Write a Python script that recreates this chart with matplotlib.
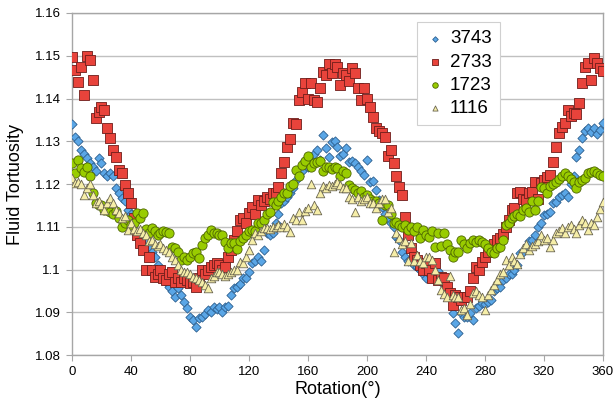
import matplotlib
matplotlib.use("Agg")
import matplotlib.pyplot as plt
import numpy as np

plt.rcParams['font.family'] = ['Liberation Sans', 'DejaVu Sans']

rotation = list(range(0, 361, 2))

s3743 = [
    1.1340, 1.1310, 1.1300, 1.1280, 1.1270, 1.1260, 1.1250, 1.1240, 1.1230, 1.1260,
    1.1250, 1.1226, 1.1220, 1.1225, 1.1220, 1.1190, 1.1180, 1.1167, 1.1160, 1.1140,
    1.1130, 1.1110, 1.1080, 1.1080, 1.1070, 1.1068, 1.1050, 1.1040, 1.1030, 1.1010,
    1.1000, 1.0980, 1.0970, 1.0960, 1.0950, 1.0936, 1.0958, 1.0940, 1.0924, 1.0910,
    1.0890, 1.0882, 1.0866, 1.0888, 1.0889, 1.0896, 1.0905, 1.0900, 1.0912, 1.0908,
    1.0912, 1.0901, 1.0913, 1.0915, 1.0940, 1.0957, 1.0960, 1.0967, 1.0980, 1.0980,
    1.0995, 1.1015, 1.1020, 1.1030, 1.1020, 1.1045, 1.1085, 1.1080, 1.1085, 1.1110,
    1.1130, 1.1156, 1.1160, 1.1170, 1.1180, 1.1190, 1.1210, 1.1220, 1.1230, 1.1256,
    1.1240, 1.1257, 1.1270, 1.1280, 1.1257, 1.1315, 1.1285, 1.1263, 1.1298, 1.1300,
    1.1287, 1.1265, 1.1270, 1.1284, 1.1251, 1.1255, 1.1250, 1.1240, 1.1230, 1.1221,
    1.1256, 1.1205, 1.1208, 1.1186, 1.1163, 1.1147, 1.1130, 1.1120, 1.1110, 1.1100,
    1.1076, 1.1070, 1.1040, 1.1030, 1.1020, 1.1025, 1.1010, 1.1006, 1.1000, 1.0990,
    1.0980, 1.0990, 1.1000, 1.1015, 1.0996, 1.0971, 1.0971, 1.0960, 1.0940, 1.0898,
    1.0875, 1.0852, 1.0898, 1.0890, 1.0890, 1.0898, 1.0882, 1.0910, 1.0915, 1.0922,
    1.0920, 1.0925, 1.0930, 1.0950, 1.0957, 1.0960, 1.0975, 1.0980, 1.0990, 1.0990,
    1.1000, 1.1010, 1.1039, 1.1040, 1.1053, 1.1066, 1.1070, 1.1080, 1.1100, 1.1108,
    1.1128, 1.1130, 1.1135, 1.1156, 1.1158, 1.1170, 1.1175, 1.1180, 1.1170, 1.1200,
    1.1220, 1.1263, 1.1280, 1.1308, 1.1323, 1.1330, 1.1322, 1.1330, 1.1318, 1.1327,
    1.1343,
]

s2733 = [
    1.1497, 1.1467, 1.1439, 1.1474, 1.1408, 1.1500, 1.1490, 1.1443, 1.1354, 1.1368,
    1.1380, 1.1373, 1.1331, 1.1308, 1.1280, 1.1263, 1.1233, 1.1226, 1.1198, 1.1180,
    1.1156, 1.1120, 1.1080, 1.1062, 1.1045, 1.0999, 1.1029, 1.1000, 1.0982, 1.0990,
    1.1000, 1.0980, 1.0975, 1.0990, 1.0994, 1.0971, 1.0980, 1.0970, 1.0980, 1.0975,
    1.0968, 1.0970, 1.0960, 1.0980, 1.1000, 1.0990, 1.1000, 1.1006, 1.1010, 1.1015,
    1.1010, 1.1000, 1.1006, 1.1029, 1.1045, 1.1070, 1.1090, 1.1116, 1.1120, 1.1110,
    1.1132, 1.1146, 1.1130, 1.1163, 1.1150, 1.1160, 1.1170, 1.1165, 1.1180, 1.1180,
    1.1193, 1.1225, 1.1251, 1.1287, 1.1305, 1.1343, 1.1340, 1.1396, 1.1415, 1.1436,
    1.1400, 1.1436, 1.1396, 1.1392, 1.1424, 1.1462, 1.1455, 1.1480, 1.1460, 1.1480,
    1.1474, 1.1432, 1.1460, 1.1455, 1.1440, 1.1471, 1.1460, 1.1425, 1.1396, 1.1424,
    1.1400, 1.1380, 1.1357, 1.1330, 1.1325, 1.1320, 1.1310, 1.1265, 1.1280, 1.1250,
    1.1220, 1.1193, 1.1175, 1.1123, 1.1080, 1.1050, 1.1030, 1.1022, 1.1010, 1.1000,
    1.1015, 1.1000, 1.0980, 1.1015, 1.0975, 1.0982, 1.0980, 1.0960, 1.0945, 1.0917,
    1.0940, 1.0936, 1.0930, 1.0936, 1.0936, 1.0950, 1.0980, 1.1006, 1.1000, 1.1018,
    1.1030, 1.1040, 1.1053, 1.1060, 1.1070, 1.1073, 1.1083, 1.1100, 1.1116, 1.1140,
    1.1144, 1.1179, 1.1181, 1.1165, 1.1163, 1.1180, 1.1181, 1.1205, 1.1165, 1.1202,
    1.1210, 1.1217, 1.1222, 1.1251, 1.1287, 1.1319, 1.1333, 1.1343, 1.1373, 1.1360,
    1.1366, 1.1364, 1.1390, 1.1436, 1.1474, 1.1483, 1.1443, 1.1495, 1.1483, 1.1471,
    1.1465,
]

s1723 = [
    1.1249, 1.1226, 1.1256, 1.1238, 1.1229, 1.1240, 1.1220, 1.1180, 1.1156, 1.1152,
    1.1150, 1.1140, 1.1140, 1.1135, 1.1130, 1.1137, 1.1120, 1.1100, 1.1110, 1.1116,
    1.1104, 1.1110, 1.1132, 1.1120, 1.1133, 1.1095, 1.1085, 1.1098, 1.1090, 1.1080,
    1.1085, 1.1090, 1.1087, 1.1085, 1.1053, 1.1050, 1.1040, 1.1022, 1.1030, 1.1022,
    1.1030, 1.1039, 1.1040, 1.1028, 1.1057, 1.1073, 1.1080, 1.1092, 1.1085, 1.1085,
    1.1080, 1.1080, 1.1064, 1.1050, 1.1063, 1.1063, 1.1049, 1.1067, 1.1075, 1.1080,
    1.1090, 1.1092, 1.1090, 1.1109, 1.1110, 1.1116, 1.1130, 1.1135, 1.1158, 1.1150,
    1.1160, 1.1170, 1.1180, 1.1180, 1.1195, 1.1200, 1.1233, 1.1220, 1.1245, 1.1253,
    1.1265, 1.1240, 1.1250, 1.1251, 1.1253, 1.1230, 1.1240, 1.1240, 1.1235, 1.1240,
    1.1238, 1.1220, 1.1230, 1.1225, 1.1198, 1.1190, 1.1187, 1.1180, 1.1184, 1.1170,
    1.1175, 1.1165, 1.1160, 1.1160, 1.1155, 1.1116, 1.1150, 1.1150, 1.1130, 1.1110,
    1.1111, 1.1105, 1.1100, 1.1105, 1.1092, 1.1100, 1.1090, 1.1100, 1.1073, 1.1092,
    1.1080, 1.1076, 1.1090, 1.1053, 1.1085, 1.1055, 1.1085, 1.1060, 1.1047, 1.1029,
    1.1040, 1.1040, 1.1070, 1.1060, 1.1050, 1.1062, 1.1070, 1.1065, 1.1070, 1.1065,
    1.1060, 1.1050, 1.1040, 1.1039, 1.1050, 1.1053, 1.1070, 1.1104, 1.1110, 1.1120,
    1.1125, 1.1130, 1.1126, 1.1140, 1.1145, 1.1135, 1.1160, 1.1140, 1.1160, 1.1193,
    1.1190, 1.1180, 1.1195, 1.1200, 1.1205, 1.1213, 1.1220, 1.1226, 1.1220, 1.1213,
    1.1205, 1.1190, 1.1205, 1.1210, 1.1215, 1.1225, 1.1228, 1.1230, 1.1225, 1.1222,
    1.1220,
]

s1116 = [
    1.1214, 1.1202, 1.1205, 1.1200, 1.1174, 1.1190, 1.1200, 1.1175, 1.1155, 1.1160,
    1.1150, 1.1140, 1.1155, 1.1167, 1.1155, 1.1140, 1.1133, 1.1120, 1.1125, 1.1092,
    1.1110, 1.1095, 1.1090, 1.1095, 1.1085, 1.1080, 1.1068, 1.1070, 1.1060, 1.1055,
    1.1060, 1.1050, 1.1047, 1.1040, 1.1030, 1.1022, 1.1010, 1.1000, 1.0995, 1.0994,
    1.0990, 1.0983, 1.0980, 1.0975, 1.0970, 1.0965, 1.0958, 1.0980, 1.0985, 1.0994,
    1.0995, 1.0990, 1.0985, 1.0990, 1.0995, 1.1000, 1.1000, 1.1018, 1.1015, 1.1030,
    1.1047, 1.1070, 1.1085, 1.1080, 1.1090, 1.1098, 1.1098, 1.1095, 1.1100, 1.1100,
    1.1105, 1.1100, 1.1107, 1.1100, 1.1088, 1.1120, 1.1115, 1.1135, 1.1116, 1.1138,
    1.1145, 1.1200, 1.1150, 1.1140, 1.1180, 1.1195, 1.1190, 1.1198, 1.1195, 1.1200,
    1.1205, 1.1198, 1.1190, 1.1190, 1.1170, 1.1165, 1.1135, 1.1170, 1.1160, 1.1165,
    1.1170, 1.1155, 1.1156, 1.1145, 1.1155, 1.1165, 1.1165, 1.1135, 1.1145, 1.1040,
    1.1085, 1.1075, 1.1060, 1.1066, 1.1020, 1.1063, 1.1020, 1.1035, 1.1020, 1.1015,
    1.1030, 1.1029, 1.1022, 1.1000, 1.0975, 1.0952, 1.0944, 1.0936, 1.0985, 1.0940,
    1.0935, 1.0936, 1.0905, 1.0910, 1.0893, 1.0920, 1.0945, 1.0950, 1.0940, 1.0936,
    1.0905, 1.0940, 1.0953, 1.0965, 1.0975, 1.0990, 1.0995, 1.1022, 1.1010, 1.1029,
    1.1020, 1.1014, 1.1037, 1.1050, 1.1060, 1.1047, 1.1055, 1.1060, 1.1066, 1.1080,
    1.1070, 1.1075, 1.1053, 1.1070, 1.1085, 1.1090, 1.1097, 1.1085, 1.1100, 1.1104,
    1.1095, 1.1086, 1.1104, 1.1116, 1.1110, 1.1093, 1.1110, 1.1105, 1.1123, 1.1142,
    1.1158,
]

series_names = ["3743", "2733", "1723", "1116"]
series_values = [s3743, s2733, s1723, s1116]
markers = ["D", "s", "o", "^"]
sizes = [22, 44, 44, 38]
faces = ["#5aa6e6", "#e8433b", "#99cc00", "#f6eea8"]
edges = ["#2c5f8f", "#6e1d1a", "#4d6600", "#6b6650"]

x_ticks = [0, 40, 80, 120, 160, 200, 240, 280, 320, 360]
y_ticks = [1.08, 1.09, 1.10, 1.11, 1.12, 1.13, 1.14, 1.15, 1.16]
y_tick_labels = ["1.08", "1.09", "1.1", "1.11", "1.12", "1.13", "1.14", "1.15", "1.16"]

fig = plt.figure(figsize=(6.15, 4.12), dpi=100)
ax = fig.add_axes([0.117, 0.138, 0.8635, 0.8305])

for name, vals, m, sz, fc, ec in zip(series_names, series_values, markers, sizes, faces, edges):
    ax.scatter(rotation, vals, marker=m, s=sz, facecolor=fc, edgecolor=ec,
               linewidths=0.6, label=name, zorder=3)

ax.set_xlim(0, 360)
ax.set_ylim(1.08, 1.16)
ax.set_xticks(x_ticks)
ax.set_xticklabels([str(t) for t in x_ticks])
ax.set_yticks(y_ticks)
ax.set_yticklabels(y_tick_labels)
ax.yaxis.grid(True, color="#c0c0c0", linewidth=1.0, zorder=0)
ax.set_axisbelow(True)
for sp in ax.spines.values():
    sp.set_color("#a6a6a6")
    sp.set_linewidth(1.0)
ax.tick_params(axis="both", which="major", labelsize=9.5, length=4, color="#a6a6a6",
               direction="out", pad=4)

ax.set_xlabel("Rotation(°)", fontsize=13, labelpad=2)
ax.set_ylabel("Fluid Tortuosity", fontsize=13, labelpad=8)

leg = ax.legend(loc="upper left", bbox_to_anchor=(0.650, 0.974), fontsize=13.5,
                frameon=True, fancybox=False, edgecolor="#d0d0d0", framealpha=1,
                handletextpad=0.3, borderpad=0.45, labelspacing=0.32,
                handlelength=1.0, markerscale=0.6, borderaxespad=0)
leg.get_frame().set_linewidth(0.8)

fig.savefig("out.png", dpi=100)
